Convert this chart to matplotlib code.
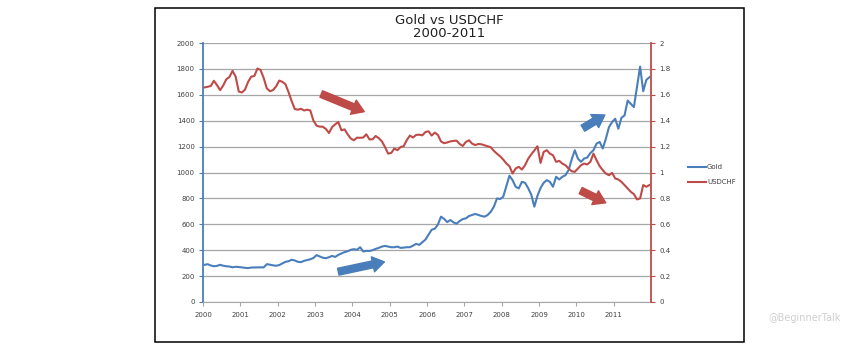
import numpy as np
import matplotlib.pyplot as plt
from matplotlib.patches import Rectangle
from matplotlib.ticker import FuncFormatter

years = [str(y) for y in range(2000, 2012)]

# monthly values, Jan 2000 - Dec 2011
gold = [287, 292, 282, 276, 279, 287, 280, 276, 274, 268, 272, 270,
        267, 264, 262, 266, 267, 267, 268, 267, 292, 288, 283, 280,
        285, 298, 310, 315, 326, 321, 310, 308, 318, 324, 330, 340,
        362, 352, 342, 338, 346, 356, 348, 364, 375, 385, 392, 403,
        408, 403, 423, 390, 395, 394, 400, 410, 418, 428, 433, 428,
        423, 423, 428, 418, 420, 423, 423, 435, 449, 441, 462, 482,
        520, 558, 566, 598, 659, 642, 617, 633, 615, 605, 625, 640,
        646, 664, 672, 680, 672, 664, 659, 672, 697, 736, 800, 795,
        813, 895, 975, 941, 890, 877, 928, 921, 880, 830, 736, 820,
        880, 920, 941, 928, 890, 967, 946, 967, 979, 1018, 1100, 1172,
        1108, 1082, 1108, 1115, 1150, 1172, 1223, 1236, 1185, 1262, 1351, 1390,
        1415, 1338, 1423, 1441, 1556, 1531, 1505, 1659, 1818, 1628, 1715, 1736]

usdchf = [1.657, 1.662, 1.668, 1.708, 1.675, 1.636, 1.672, 1.720, 1.738, 1.785, 1.740, 1.625,
          1.618, 1.640, 1.700, 1.740, 1.745, 1.803, 1.792, 1.730, 1.650, 1.628, 1.636, 1.665,
          1.710, 1.700, 1.682, 1.620, 1.551, 1.490, 1.485, 1.492, 1.479, 1.485, 1.479, 1.400,
          1.362, 1.354, 1.354, 1.336, 1.305, 1.351, 1.372, 1.390, 1.326, 1.333, 1.295, 1.262,
          1.249, 1.269, 1.268, 1.270, 1.295, 1.256, 1.256, 1.282, 1.265, 1.240, 1.197, 1.146,
          1.151, 1.185, 1.172, 1.197, 1.203, 1.250, 1.285, 1.270, 1.290, 1.292, 1.287, 1.313,
          1.318, 1.285, 1.308, 1.290, 1.240, 1.226, 1.232, 1.240, 1.244, 1.246, 1.220, 1.205,
          1.236, 1.249, 1.223, 1.212, 1.220, 1.218, 1.210, 1.203, 1.195, 1.167, 1.145, 1.125,
          1.100, 1.070, 1.049, 0.992, 1.031, 1.044, 1.023, 1.056, 1.105, 1.140, 1.170, 1.203,
          1.074, 1.159, 1.172, 1.146, 1.133, 1.082, 1.090, 1.069, 1.056, 1.031, 1.010, 1.005,
          1.031, 1.056, 1.069, 1.062, 1.082, 1.146, 1.095, 1.049, 1.018, 0.992, 0.979, 0.997,
          0.954, 0.946, 0.928, 0.903, 0.877, 0.851, 0.833, 0.792, 0.800, 0.903, 0.890, 0.903]

blue = '#4a7ebb'
red = '#be4b48'
grid_c = '#a6a6a6'
txt_c = '#404040'

fig = plt.figure(figsize=(8.62, 3.45), dpi=100)
fig.patches.append(Rectangle((155/862, 3.5/345), 589/862, 334/345, transform=fig.transFigure,
                             fill=False, edgecolor='black', linewidth=1.1))

ax = fig.add_axes([203/862, 43/345, 448/862, 259/345])
ax2 = ax.twinx()

x = np.arange(len(gold)) + 0.5
ax.plot(x, gold, color=blue, lw=1.5, label='Gold', zorder=3)
ax2.plot(x, usdchf, color=red, lw=1.5, label='USDCHF', zorder=3)

ax.set_xlim(0, len(gold))
ax.set_ylim(0, 2000)
ax2.set_ylim(0, 2)
ax.set_yticks(range(0, 2001, 200))
ax2.set_yticks(np.arange(0, 2.01, 0.2))
ax2.yaxis.set_major_formatter(FuncFormatter(lambda v, p: '%g' % round(v, 1)))
ax.set_xticks(np.arange(0, len(gold), 12))
ax.set_xticklabels(years)

ax.grid(axis='y', color=grid_c, lw=0.9)
ax.set_axisbelow(True)
for a in (ax, ax2):
    a.spines['top'].set_visible(False)
ax.spines['right'].set_visible(False)
ax2.spines['left'].set_visible(False)
ax2.spines['bottom'].set_visible(False)
ax.spines['left'].set_color(blue)
ax.spines['left'].set_linewidth(1.3)
ax2.spines['right'].set_color(red)
ax2.spines['right'].set_linewidth(1.3)
ax.spines['bottom'].set_color(grid_c)

ax.tick_params(axis='y', colors=blue, labelcolor=txt_c, labelsize=5, length=3, width=0.8, pad=3)
ax2.tick_params(axis='y', colors=red, labelcolor=txt_c, labelsize=5, length=3, width=0.8, pad=3)
ax.tick_params(axis='x', colors=grid_c, labelcolor=txt_c, labelsize=5, length=3, width=0.8, pad=4)

fig.text(449.5/862, 1 - 27/345, 'Gold vs USDCHF\n2000-2011', ha='center', va='center',
         fontsize=9.5, color='#202020', linespacing=1.05)

h1, l1 = ax.get_legend_handles_labels()
h2, l2 = ax2.get_legend_handles_labels()
fig.legend(h1 + h2, l1 + l2, loc='center left', bbox_to_anchor=(688/862, 1 - 174.5/345),
           frameon=False, fontsize=5, handlelength=2.6, handletextpad=0.15,
           labelspacing=1.3, borderpad=0, borderaxespad=0, labelcolor=txt_c)

# trend arrows
arrows = [((0.264, 0.803), (0.360, 0.735), red),
          ((0.302, 0.117), (0.405, 0.155), blue),
          ((0.848, 0.671), (0.897, 0.722), blue),
          ((0.843, 0.430), (0.899, 0.383), red)]
for tail, tip, c in arrows:
    ax.annotate('', xy=tip, xytext=tail, xycoords='axes fraction',
                arrowprops=dict(arrowstyle='simple,head_length=0.85,head_width=1.1,tail_width=0.5',
                                mutation_scale=10, color=c, shrinkA=0, shrinkB=0), zorder=5)

fig.text(768/862, 1 - 318/345, '@BeginnerTalk', fontsize=7, color='#cfcfcf', va='center')

fig.savefig('out.png', dpi=100)
